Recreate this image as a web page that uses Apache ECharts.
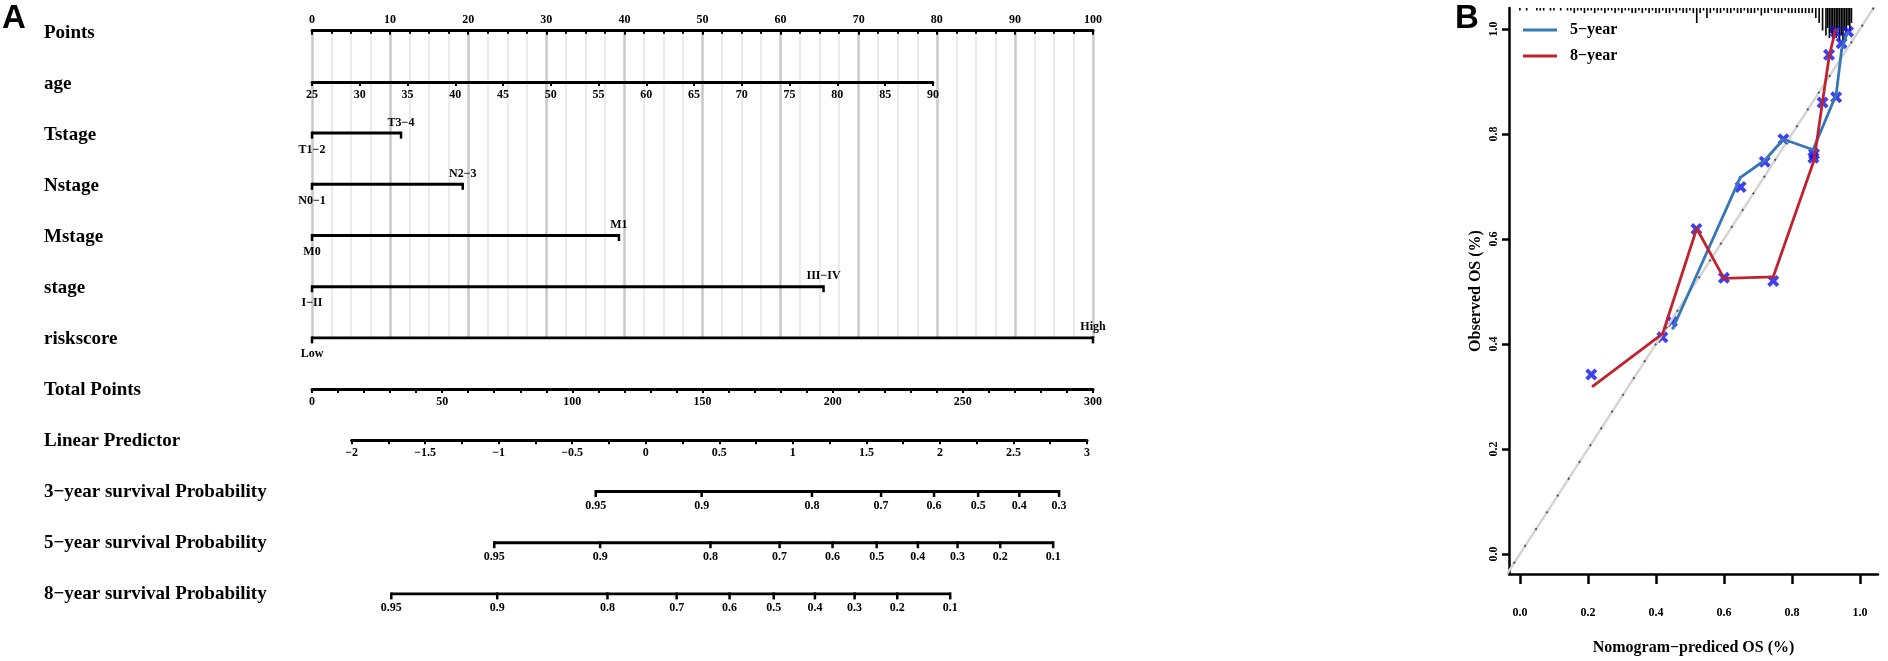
<!DOCTYPE html>
<html>
<head>
<meta charset="utf-8">
<script src="https://cdn.jsdelivr.net/npm/echarts@6.0.0/dist/echarts.min.js"></script>
<style>
html, body { margin: 0; padding: 0; background: #fff; }
#main { width: 1888px; height: 661px; }
</style>
</head>
<body>
<div id="main"></div>
<script>
// ---- panel A : nomogram ----
var rowNames = ['Points', 'age', 'Tstage', 'Nstage', 'Mstage', 'stage', 'riskscore',
    'Total Points', 'Linear Predictor', '3−year survival Probability',
    '5−year survival Probability', '8−year survival Probability'];

// age scale: 25..90 years covers 0..79.5 points
var ageRange = [25, 90];
var agePoints = 79.5;

// categorical predictors (row index, level labels, points of each level)
var catRows = [2, 3, 4, 5, 6];
var catLevels = [['T1−2', 'T3−4'], ['N0−1', 'N2−3'], ['M0', 'M1'], ['I−II', 'III−IV'], ['Low', 'High']];
var catPoints = [[0, 11.4], [0, 19.3], [0, 39.3], [0, 65.5], [0, 100]];

// linear predictor -2..3 sits over total points 15.2..297.7
var lpRange = [-2, 3];
var lpTotalPts = [15.2, 297.7];

// survival probability ticks and their place on the linear predictor scale
var surv3Prob = [0.95, 0.9, 0.8, 0.7, 0.6, 0.5, 0.4, 0.3];
var surv3LP = [-0.34, 0.38, 1.13, 1.60, 1.96, 2.26, 2.54, 2.81];
var surv5Prob = [0.95, 0.9, 0.8, 0.7, 0.6, 0.5, 0.4, 0.3, 0.2, 0.1];
var surv5LP = [-1.03, -0.31, 0.44, 0.91, 1.27, 1.57, 1.85, 2.12, 2.41, 2.77];
var surv8Prob = [0.95, 0.9, 0.8, 0.7, 0.6, 0.5, 0.4, 0.3, 0.2, 0.1];
var surv8LP = [-1.73, -1.01, -0.26, 0.21, 0.57, 0.87, 1.15, 1.42, 1.71, 2.07];

// ---- panel B : calibration ----
var pred5 = [0.45, 0.648, 0.72, 0.775, 0.862, 0.93, 0.946, 0.963];
var obs5 = [0.43, 0.717, 0.75, 0.79, 0.77, 0.875, 0.96, 0.993];
var pred8 = [0.215, 0.42, 0.52, 0.60, 0.745, 0.865, 0.89, 0.91, 0.928];
var obs8 = [0.32, 0.42, 0.62, 0.525, 0.528, 0.75, 0.862, 0.95, 0.998];
// bias-corrected estimates (x marks)
var corrPred = [0.21, 0.419, 0.447, 0.519, 0.60, 0.649, 0.72, 0.745, 0.775, 0.863, 0.865, 0.89, 0.909, 0.928, 0.93, 0.946, 0.965];
var corrObs = [0.342, 0.413, 0.443, 0.619, 0.526, 0.699, 0.747, 0.52, 0.79, 0.755, 0.762, 0.86, 0.951, 0.995, 0.87, 0.973, 0.995];
var calTicks = [0, 0.2, 0.4, 0.6, 0.8, 1.0];

// distribution of predicted values (rug at the top)
var rugX = [0.00, 0.02, 0.05, 0.06, 0.07, 0.09, 0.10, 0.12, 0.14, 0.15, 0.16, 0.17, 0.18, 0.19, 0.20,
    0.21, 0.22, 0.23, 0.24, 0.25, 0.26, 0.27, 0.28, 0.29, 0.30, 0.31, 0.32, 0.33, 0.34, 0.35, 0.36,
    0.37, 0.38, 0.39, 0.40, 0.41, 0.42, 0.43, 0.44, 0.45, 0.46, 0.47, 0.48, 0.49, 0.50, 0.51, 0.52,
    0.53, 0.54, 0.55, 0.56, 0.57, 0.58, 0.59, 0.60, 0.61, 0.62, 0.63, 0.64, 0.65, 0.66, 0.67, 0.68,
    0.69, 0.70, 0.71, 0.72, 0.73, 0.74, 0.75, 0.76, 0.77, 0.78, 0.79, 0.80, 0.81, 0.82, 0.83, 0.84,
    0.85, 0.86, 0.87, 0.88, 0.89, 0.90, 0.905, 0.91, 0.915, 0.92, 0.925, 0.93, 0.935, 0.94, 0.945,
    0.95, 0.955, 0.96, 0.965, 0.97, 0.975];
var rugN = [1, 1, 1, 1, 1, 1, 1, 1, 1, 1, 2, 1, 1, 2, 1,
    1, 2, 1, 1, 2, 1, 1, 2, 1, 2, 1, 1, 2, 2, 1, 2,
    1, 2, 1, 2, 2, 1, 2, 2, 1, 2, 1, 2, 2, 1, 2, 6,
    2, 1, 4, 2, 1, 2, 2, 1, 2, 2, 1, 2, 2, 1, 2, 2,
    2, 1, 3, 2, 2, 1, 2, 2, 2, 1, 2, 2, 2, 2, 2, 2,
    2, 2, 4, 6, 9, 11, 8, 12, 10, 13, 9, 12, 8, 13, 11,
    13, 9, 10, 7, 9, 6];

// ---- layout ----
var serif = "'Liberation Serif', 'Times New Roman', serif";
var pLeft = 312, pWidth = 781;
var rowTop = 30.7, rowGap = 51.2;
function rowY(i) { return rowTop + i * rowGap; }
var pxPerPt = pWidth / 100;
var lpLeft = pLeft + lpTotalPts[0] / 300 * pWidth;
var lpWidth = (lpTotalPts[1] - lpTotalPts[0]) / 300 * pWidth;
var bLeft = 1509, bWidth = 369, bTop = 8, bHeight = 571;
var bXRange = [-0.032, 1.053], bYRange = [-0.038, 1.04];

function txt(size) {
    return { color: '#000', fontFamily: serif, fontWeight: 'bold', fontSize: size };
}
var blackLine = { lineStyle: { color: '#000', width: 3 }, onZero: false };

var myChart = echarts.init(document.getElementById('main'));

var grids = [
    { left: pLeft, width: pWidth, top: rowY(0), height: rowY(6) - rowY(0) },       // 0 points + categorical rows
    { left: pLeft, width: agePoints * pxPerPt, top: rowY(1) - 1, height: 1 },       // 1 age
    { left: pLeft, width: pWidth, top: rowY(7) - 1, height: 1 },                   // 2 total points
    { left: lpLeft, width: lpWidth, top: rowY(8) - 1, height: 1 },                 // 3 linear predictor
    { left: lpLeft, width: lpWidth, top: rowY(9), height: 2 * rowGap },            // 4 survival rows
    { left: pLeft, width: pWidth, top: 33, height: 561 },                          // 5 row labels
    { left: bLeft, width: bWidth, top: bTop, height: bHeight },                    // 6 calibration
    { left: bLeft, width: bWidth, top: bTop, height: 40 }                          // 7 rug
];

var xAxes = [
    {
        gridIndex: 0, type: 'value', min: 0, max: 100, interval: 10, position: 'top',
        axisLine: blackLine,
        axisTick: { inside: true, length: 4, lineStyle: { color: '#000', width: 2 } },
        minorTick: { show: true, splitNumber: 4, length: 3, lineStyle: { color: '#000', width: 2 } },
        axisLabel: Object.assign(txt(12), { margin: 5 }),
        splitLine: { show: true, lineStyle: { color: '#c8c8c8', width: 2.5 } },
        minorSplitLine: { show: true, lineStyle: { color: '#ebebeb', width: 2 } }
    },
    {
        gridIndex: 1, type: 'value', min: ageRange[0], max: ageRange[1], interval: 5, position: 'bottom',
        axisLine: blackLine,
        axisTick: { length: 4, lineStyle: { color: '#000', width: 2 } },
        axisLabel: Object.assign(txt(12), { margin: 7 }),
        splitLine: { show: false }
    },
    {
        gridIndex: 2, type: 'value', min: 0, max: 300, interval: 50, position: 'bottom',
        axisLine: blackLine,
        axisTick: { length: 4, lineStyle: { color: '#000', width: 2 } },
        minorTick: { show: true, splitNumber: 5, length: 4, lineStyle: { color: '#000', width: 2 } },
        axisLabel: Object.assign(txt(12), { margin: 7 }),
        splitLine: { show: false }
    },
    {
        gridIndex: 3, type: 'value', min: lpRange[0], max: lpRange[1], interval: 0.5, position: 'bottom',
        axisLine: blackLine,
        axisTick: { length: 4, lineStyle: { color: '#000', width: 2 } },
        minorTick: { show: true, splitNumber: 2, length: 4, lineStyle: { color: '#000', width: 2 } },
        axisLabel: Object.assign(txt(12), {
            margin: 7,
            formatter: function (v) { return String(v).replace('-', '−'); }
        }),
        splitLine: { show: false }
    },
    { gridIndex: 4, type: 'value', min: lpRange[0], max: lpRange[1], show: false },
    { gridIndex: 5, type: 'value', min: 0, max: 100, show: false },
    {
        gridIndex: 6, type: 'value', min: bXRange[0], max: bXRange[1],
        axisLine: { onZero: false, lineStyle: { color: '#000', width: 2.5 } },
        axisTick: { customValues: calTicks, length: 10, lineStyle: { color: '#000', width: 2.5 } },
        axisLabel: Object.assign(txt(12), {
            customValues: calTicks, margin: 33,
            formatter: function (v) { return v.toFixed(1); }
        }),
        splitLine: { show: false },
        name: 'Nomogram−prediced OS (%)', nameLocation: 'middle', nameGap: 66,
        nameTextStyle: txt(16)
    },
    { gridIndex: 7, type: 'value', min: bXRange[0], max: bXRange[1], show: false }
];

var yAxes = [
    { gridIndex: 0, type: 'value', min: 0, max: 6, inverse: true, show: false },
    { gridIndex: 1, type: 'value', show: false },
    { gridIndex: 2, type: 'value', show: false },
    { gridIndex: 3, type: 'value', show: false },
    { gridIndex: 4, type: 'value', min: 0, max: 2, inverse: true, show: false },
    {
        gridIndex: 5, type: 'category', data: rowNames, inverse: true, boundaryGap: false,
        axisLine: { show: false }, axisTick: { show: false },
        axisLabel: Object.assign(txt(19), { align: 'left', margin: pLeft - 44 })
    },
    {
        gridIndex: 6, type: 'value', min: bYRange[0], max: bYRange[1],
        axisLine: { onZero: false, lineStyle: { color: '#000', width: 2.5 } },
        axisTick: { customValues: calTicks, length: 7, lineStyle: { color: '#000', width: 2.5 } },
        axisLabel: Object.assign(txt(12), {
            customValues: calTicks, margin: 9, rotate: 90,
            formatter: function (v) { return v.toFixed(1); }
        }),
        splitLine: { show: false },
        name: 'Observed OS (%)', nameLocation: 'middle', nameGap: 25,
        nameTextStyle: txt(16)
    },
    { gridIndex: 7, type: 'value', min: 0, max: 16, inverse: true, show: false }
];

var series = [];

// categorical rows
catRows.forEach(function (row, k) {
    series.push({
        type: 'line', xAxisIndex: 0, yAxisIndex: 0, silent: true,
        data: catPoints[k].map(function (p, j) {
            return {
                value: [p, row],
                label: { position: j === 0 ? 'bottom' : 'top', distance: j === 0 ? 5 : 3 }
            };
        }),
        lineStyle: { color: '#000', width: 3 },
        symbol: 'rect', symbolSize: [2.5, 7], symbolOffset: [0, 2],
        itemStyle: { color: '#000' },
        label: Object.assign(txt(12), {
            show: true,
            formatter: function (p) { return catLevels[k][p.dataIndex]; }
        })
    });
});

// survival probability rows
[[surv3Prob, surv3LP], [surv5Prob, surv5LP], [surv8Prob, surv8LP]].forEach(function (s, r) {
    series.push({
        type: 'line', xAxisIndex: 4, yAxisIndex: 4, silent: true,
        data: s[1].map(function (lp) { return [lp, r]; }),
        lineStyle: { color: '#000', width: 3 },
        symbol: 'rect', symbolSize: [2.5, 7], symbolOffset: [0, 2],
        showAllSymbol: true,
        itemStyle: { color: '#000' },
        label: Object.assign(txt(12), {
            show: true, position: 'bottom', distance: 3,
            formatter: function (p) { return String(s[0][p.dataIndex]); }
        })
    });
});

// calibration: ideal line
series.push({
    type: 'line', xAxisIndex: 6, yAxisIndex: 6, silent: true, symbol: 'none',
    data: [[-0.05, -0.05], [1.06, 1.06]],
    lineStyle: { color: '#d4d4d4', width: 2.5 }
});
series.push({
    type: 'line', xAxisIndex: 6, yAxisIndex: 6, silent: true, symbol: 'none',
    data: [[-0.05, -0.05], [1.06, 1.06]],
    lineStyle: { color: '#555', width: 2, type: [2, 18] }
});
series.push({
    name: '5−year', type: 'line', xAxisIndex: 6, yAxisIndex: 6,
    data: pred5.map(function (x, i) { return [x, obs5[i]]; }),
    symbol: 'circle', symbolSize: 3,
    lineStyle: { color: '#3677b8', width: 2.8 },
    itemStyle: { color: '#3677b8' }
});
series.push({
    name: '8−year', type: 'line', xAxisIndex: 6, yAxisIndex: 6,
    data: pred8.map(function (x, i) { return [x, obs8[i]]; }),
    symbol: 'circle', symbolSize: 3,
    lineStyle: { color: '#c1232e', width: 2.8 },
    itemStyle: { color: '#c1232e' }
});
series.push({
    type: 'scatter', xAxisIndex: 6, yAxisIndex: 6,
    data: corrPred.map(function (x, i) { return [x, corrObs[i]]; }),
    symbol: 'path://M0,2.3 L2.3,0 L5,2.7 L7.7,0 L10,2.3 L7.3,5 L10,7.7 L7.7,10 L5,7.3 L2.3,10 L0,7.7 L2.7,5 Z',
    symbolSize: 12,
    itemStyle: { color: '#1010ee' }
});
series.push({
    type: 'bar', xAxisIndex: 7, yAxisIndex: 7, silent: true,
    data: rugX.map(function (x, i) { return [x, rugN[i]]; }),
    barWidth: 1.6,
    itemStyle: { color: '#000' }
});

var option = {
    animation: false,
    backgroundColor: '#fff',
    grid: grids,
    xAxis: xAxes,
    yAxis: yAxes,
    legend: {
        left: 1518, top: 17, orient: 'vertical',
        icon: 'rect', itemWidth: 34, itemHeight: 3, itemGap: 10,
        data: ['5−year', '8−year'],
        textStyle: Object.assign(txt(16), { padding: [0, 0, 0, 8] })
    },
    graphic: [
        { type: 'text', left: 2, top: 2, style: { text: 'A', font: 'bold 33px "Liberation Sans", Arial, sans-serif', fill: '#000' } },
        { type: 'text', left: 1455, top: 2, style: { text: 'B', font: 'bold 33px "Liberation Sans", Arial, sans-serif', fill: '#000' } }
    ],
    series: series
};

myChart.setOption(option);
</script>
</body>
</html>
